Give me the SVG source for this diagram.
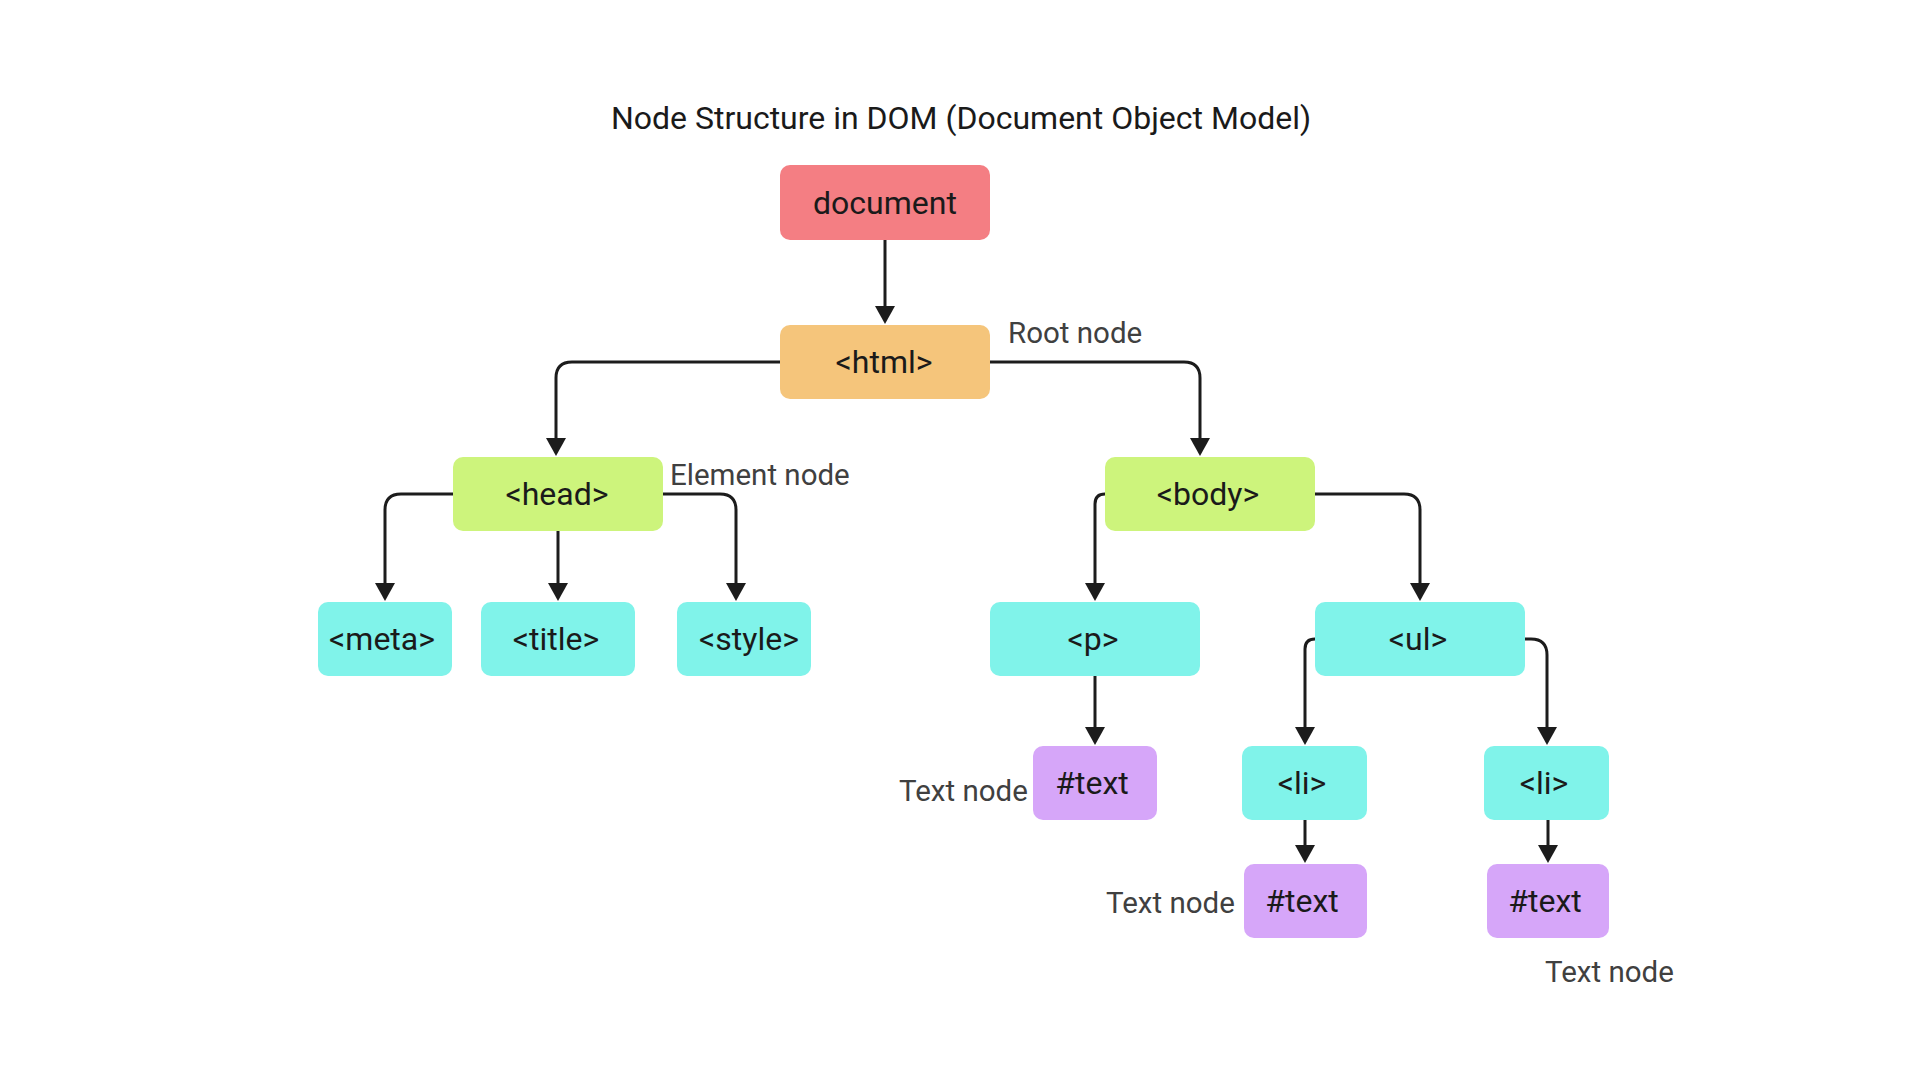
<svg xmlns="http://www.w3.org/2000/svg" width="1920" height="1080" viewBox="0 0 1920 1080">
  <style>
    .box { stroke: none; }
    .doc { fill: #F47E83; }
    .root { fill: #F5C57B; }
    .elem { fill: #CDF47C; }
    .leaf { fill: #80F3EA; }
    .txt { fill: #D6A6F9; }
    .ntext { font-family: Roboto, "Liberation Sans", sans-serif; font-size: 32px; fill: #1a1a1a; text-anchor: middle; }
    .label { font-family: Roboto, "Liberation Sans", sans-serif; font-size: 29.5px; fill: #404040; }
    .title { font-family: Roboto, "Liberation Sans", sans-serif; font-size: 32px; fill: #1a1a1a; text-anchor: middle; }
    .conn { fill: none; stroke: #1c1c1c; stroke-width: 3; marker-end: url(#arrow); }
  </style>
  <defs>
    <marker id="arrow" markerUnits="userSpaceOnUse" viewBox="0 0 18 20" refX="10" refY="10" markerWidth="18" markerHeight="20" orient="auto">
      <path d="M0,0 L18,10 L0,20 Z" fill="#1c1c1c"/>
    </marker>
  </defs>
  <rect width="1920" height="1080" fill="#ffffff"/>
  <text class="title" x="961" y="129">Node Structure in DOM (Document Object Model)</text>

  <g id="connectors">
    <path class="conn" d="M885 240 V316"/>
    <path class="conn" d="M780 362 H572 Q556 362 556 378 V448"/>
    <path class="conn" d="M990 362 H1184 Q1200 362 1200 378 V448"/>
    <path class="conn" d="M453 494 H401 Q385 494 385 510 V593"/>
    <path class="conn" d="M558 531 V593"/>
    <path class="conn" d="M663 494 H720 Q736 494 736 510 V593"/>
    <path class="conn" d="M1105 494 Q1095 494 1095 504 V593"/>
    <path class="conn" d="M1315 494 H1404 Q1420 494 1420 510 V593"/>
    <path class="conn" d="M1095 676 V737"/>
    <path class="conn" d="M1315 639 Q1305 639 1305 649 V737"/>
    <path class="conn" d="M1525 639 H1531 Q1547 639 1547 655 V737"/>
    <path class="conn" d="M1305 820 V855"/>
    <path class="conn" d="M1548 820 V855"/>
  </g>

  <g id="node-document">
    <rect class="box doc" x="780" y="165" width="210" height="75" rx="10"/>
    <text class="ntext" x="885" y="214">document</text>
  </g>
  <g id="node-html">
    <rect class="box root" x="780" y="325" width="210" height="74" rx="10"/>
    <text class="ntext" x="884" y="373">&lt;html&gt;</text>
  </g>
  <g id="node-head">
    <rect class="box elem" x="453" y="457" width="210" height="74" rx="10"/>
    <text class="ntext" x="557" y="505">&lt;head&gt;</text>
  </g>
  <g id="node-body">
    <rect class="box elem" x="1105" y="457" width="210" height="74" rx="10"/>
    <text class="ntext" x="1208" y="505">&lt;body&gt;</text>
  </g>
  <g id="node-meta">
    <rect class="box leaf" x="318" y="602" width="134" height="74" rx="10"/>
    <text class="ntext" x="382" y="650">&lt;meta&gt;</text>
  </g>
  <g id="node-title">
    <rect class="box leaf" x="481" y="602" width="154" height="74" rx="10"/>
    <text class="ntext" x="556" y="650">&lt;title&gt;</text>
  </g>
  <g id="node-style">
    <rect class="box leaf" x="677" y="602" width="134" height="74" rx="10"/>
    <text class="ntext" x="749" y="650">&lt;style&gt;</text>
  </g>
  <g id="node-p">
    <rect class="box leaf" x="990" y="602" width="210" height="74" rx="10"/>
    <text class="ntext" x="1093" y="650">&lt;p&gt;</text>
  </g>
  <g id="node-ul">
    <rect class="box leaf" x="1315" y="602" width="210" height="74" rx="10"/>
    <text class="ntext" x="1418" y="650">&lt;ul&gt;</text>
  </g>
  <g id="node-text-p">
    <rect class="box txt" x="1033" y="746" width="124" height="74" rx="10"/>
    <text class="ntext" x="1092" y="794">#text</text>
  </g>
  <g id="node-li-1">
    <rect class="box leaf" x="1242" y="746" width="125" height="74" rx="10"/>
    <text class="ntext" x="1302" y="794">&lt;li&gt;</text>
  </g>
  <g id="node-li-2">
    <rect class="box leaf" x="1484" y="746" width="125" height="74" rx="10"/>
    <text class="ntext" x="1544" y="794">&lt;li&gt;</text>
  </g>
  <g id="node-text-li-1">
    <rect class="box txt" x="1244" y="864" width="123" height="74" rx="10"/>
    <text class="ntext" x="1302" y="912">#text</text>
  </g>
  <g id="node-text-li-2">
    <rect class="box txt" x="1487" y="864" width="122" height="74" rx="10"/>
    <text class="ntext" x="1545" y="912">#text</text>
  </g>

  <g id="labels">
    <text class="label" x="1008" y="343">Root node</text>
    <text class="label" x="670" y="485">Element node</text>
    <text class="label" x="899" y="801">Text node</text>
    <text class="label" x="1106" y="913">Text node</text>
    <text class="label" x="1545" y="982">Text node</text>
  </g>
</svg>
